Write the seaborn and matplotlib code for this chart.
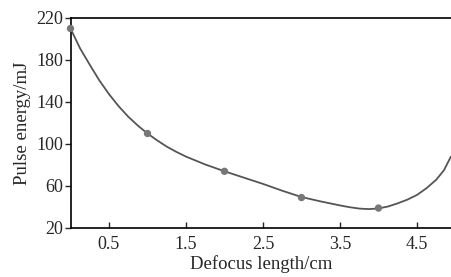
import numpy as np
import pandas as pd
import matplotlib
matplotlib.use("Agg")
import matplotlib.pyplot as plt
import seaborn as sns

# Measured points
defocus = [0, 1, 2, 3, 4]
energy = [210, 110, 74, 49, 39]

# Fitted curve
curve_x = [0, 0.125, 0.25, 0.375, 0.5, 0.625, 0.75, 0.875, 1.0, 1.125, 1.25,
           1.375, 1.5, 1.75, 2.0, 2.25, 2.5, 2.75, 3.0, 3.25, 3.5, 3.625,
           3.75, 3.875, 4.0, 4.125, 4.25, 4.375, 4.5, 4.625, 4.75, 4.85, 4.94]
curve_y = [210, 191, 175.5, 160.5, 147.5, 136, 126, 117.5, 110, 103.5, 97.5,
           92.5, 88, 80.5, 74, 68, 62, 55.5, 49.5, 45.3, 41.5, 39.8,
           38.5, 38, 38.6, 40.5, 43.5, 47, 51.5, 58, 66, 75, 88]

xticks = [0.5, 1.5, 2.5, 3.5, 4.5]
yticks = [20, 60, 100, 140, 180, 220]

sns.set_style("ticks")
plt.rcParams['font.family'] = ['Liberation Serif', 'DejaVu Serif']

fig = plt.figure(figsize=(4.51, 2.77), dpi=100)
ax = fig.add_axes([70.5 / 451, 1 - 228 / 277, (451 - 70.5) / 451, 210 / 277])

curve = pd.DataFrame({"x": curve_x, "y": curve_y})
pts = pd.DataFrame({"x": defocus, "y": energy})
sns.lineplot(data=curve, x="x", y="y", ax=ax, color="#555555", linewidth=1.3, sort=False)
sns.scatterplot(data=pts, x="x", y="y", ax=ax, color="#777777", s=28, edgecolor="none",
                zorder=5, clip_on=False)

ax.set_xlim(0, 380.5 / 77)
ax.set_ylim(20, 220)
ax.set_xticks(xticks)
ax.set_xticklabels([str(t) for t in xticks])
ax.set_yticks(yticks)
ax.set_yticklabels([str(t) for t in yticks])
ax.tick_params(axis="x", direction="in", length=4, width=1, labelsize=13, pad=6)
ax.tick_params(axis="y", direction="out", length=4, width=1, labelsize=13, pad=1)
ax.set_xlabel("Defocus length/cm", fontsize=13.5, labelpad=1)
ax.set_ylabel("Pulse energy/mJ", fontsize=13.5, labelpad=4)
for s in ["left", "bottom", "top"]:
    ax.spines[s].set_linewidth(1.2)
    ax.spines[s].set_color("black")
ax.spines["right"].set_visible(False)

fig.savefig("out.png", dpi=100)
